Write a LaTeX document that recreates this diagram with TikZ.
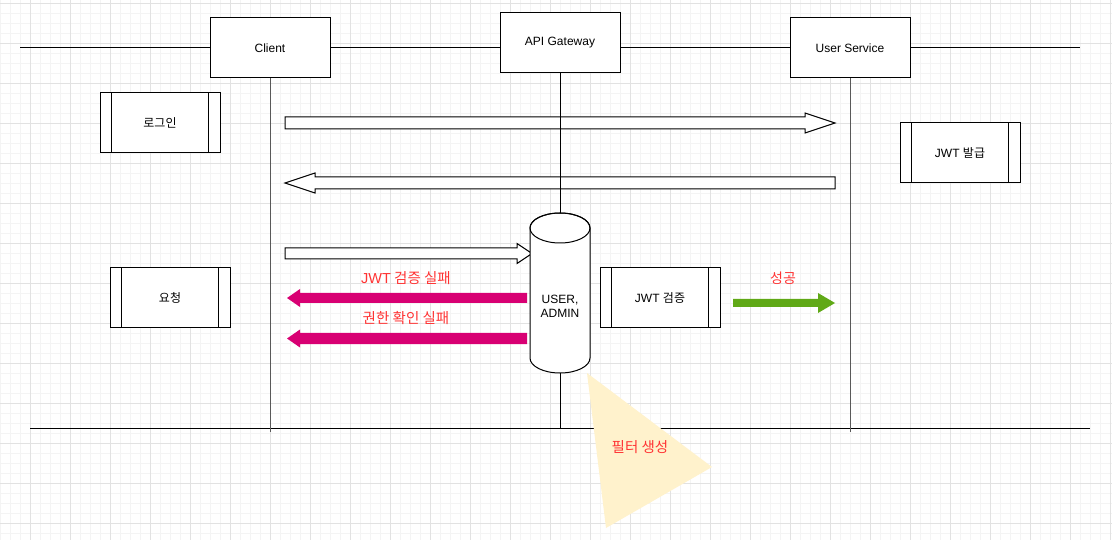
\documentclass[tikz,border=0pt]{standalone}
\usepackage{fontspec}
\setmainfont{Liberation Sans}
\newfontfamily\kr{Noto Sans CJK KR}
\definecolor{gridminor}{HTML}{F4F4F4}
\definecolor{gridmajor}{HTML}{E2E2E2}
\definecolor{magentaA}{HTML}{D80073}
\definecolor{greenA}{HTML}{60A917}
\definecolor{redtxt}{HTML}{FF3333}
\definecolor{filterfill}{HTML}{FFF2CC}
\newcommand\procbox[4]{%
  \node[box] (#1) at (#2,#3) {#4};
  \draw[line width=1pt] ([xshift=12pt]#1.north west) -- ([xshift=12pt]#1.south west);
  \draw[line width=1pt] ([xshift=-12pt]#1.north east) -- ([xshift=-12pt]#1.south east);}
% block arrow pointing right: x1 tail, x2 tip, yc centre, shaft half, head half, head length
\newcommand\barrowR[7]{%
  \path[#7] (#1,#3-#4) -- (#2-#6,#3-#4) -- (#2-#6,#3-#5) -- (#2,#3) -- (#2-#6,#3+#5) -- (#2-#6,#3+#4) -- (#1,#3+#4) -- cycle;}
\newcommand\barrowL[7]{%
  \path[#7] (#1,#3-#4) -- (#2+#6,#3-#4) -- (#2+#6,#3-#5) -- (#2,#3) -- (#2+#6,#3+#5) -- (#2+#6,#3+#4) -- (#1,#3+#4) -- cycle;}
\begin{document}
\begin{tikzpicture}[x=1pt,y=-1pt,
  box/.style={draw=black,fill=white,line width=1pt,minimum width=120pt,minimum height=60pt,inner sep=0pt,font=\fontsize{12}{14}\selectfont},
  ln/.style={line width=1pt,black},
  life/.style={line width=1pt,black!65},
  white arrow/.style={draw=black,fill=white,line width=1pt},
  mag arrow/.style={fill=magentaA},
  green arrow/.style={fill=greenA},
  redlabel/.style={text=redtxt,font=\fontsize{14.5}{17}\selectfont\kr,inner sep=0pt},
  txt/.style={font=\fontsize{12}{14}\selectfont,inner sep=0pt,align=center}]
\useasboundingbox (0,0) rectangle (1112,540);
\fill[white] (0,0) rectangle (1112,540);
% grid
\foreach \x in {0,10,...,1110} \draw[gridminor,line width=0.8pt] (\x,0) -- (\x,540);
\foreach \y in {3,13,...,533} \draw[gridminor,line width=0.8pt] (0,\y) -- (1112,\y);
\foreach \x in {30,70,...,1110} \draw[gridmajor,line width=0.8pt] (\x,0) -- (\x,540);
\foreach \y in {3,43,...,523} \draw[gridmajor,line width=0.8pt] (0,\y) -- (1112,\y);
% horizontal rails
\coordinate (tl) at (20,48);
\coordinate (tr) at (1080,48);
\coordinate (bl) at (30,428);
\coordinate (br) at (1090,428);
\draw[ln] (tl) -- (tr);
\draw[ln] (bl) -- (br);
% participants
\node[box] (client) at (270,48) {Client};
\node[box] (gw) at (560,43) {API Gateway};
\node[box] (us) at (850,48) {User Service};
\coordinate (clientEnd) at (270,432);
\coordinate (usEnd) at (850,432);
\coordinate (gwEnd) at (560,428);
\draw[life] (client.south) -- (clientEnd);
\draw[life] (us.south) -- (usEnd);
% process boxes
\procbox{login}{160}{123}{\kr 로그인}
\procbox{issue}{960}{153}{JWT {\kr 발급}}
\procbox{req}{170}{298}{\kr 요청}
\procbox{verify}{660}{298}{JWT {\kr 검증}}
% white block arrows
\barrowR{285}{835}{123}{6}{10}{30}{white arrow}
\barrowL{835}{285}{183}{6}{10}{30}{white arrow}
\barrowR{285}{532}{253.5}{5.5}{10}{15}{white arrow}
% gateway lifeline
\draw[ln] (gw.south) -- (gwEnd);
% cylinder
\draw[fill=white,line width=1pt] (530,228) -- (530,358) arc[start angle=180,end angle=0,x radius=30,y radius=15] -- (590,228) arc[start angle=0,end angle=-180,x radius=30,y radius=15] -- cycle;
\draw[line width=1pt] (560,228) ellipse[x radius=30,y radius=15];
\node[txt] (db) at (560,306) {USER,\\ADMIN};
% magenta arrows
\barrowL{527}{287}{298}{5}{9}{13}{mag arrow}
\barrowL{527}{287}{338.5}{5.5}{9}{13}{mag arrow}
\node[redlabel] (fail1) at (406,278) {{\setmainfont{Liberation Sans}\fontsize{14.5}{17}\selectfont JWT} 검증 실패};
\node[redlabel] (fail2) at (406,318) {권한 확인 실패};
% green arrow
\barrowR{733}{835}{303}{4}{10}{17}{green arrow}
\node[text=redtxt,font=\fontsize{14}{16}\selectfont\kr,inner sep=0pt] (ok) at (783,278) {성공};
% filter triangle
\fill[filterfill] (587,373) -- (712,467) -- (606,528) -- cycle;
\node[redlabel] (filter) at (640,447) {필터 생성};
\end{tikzpicture}
\end{document}
